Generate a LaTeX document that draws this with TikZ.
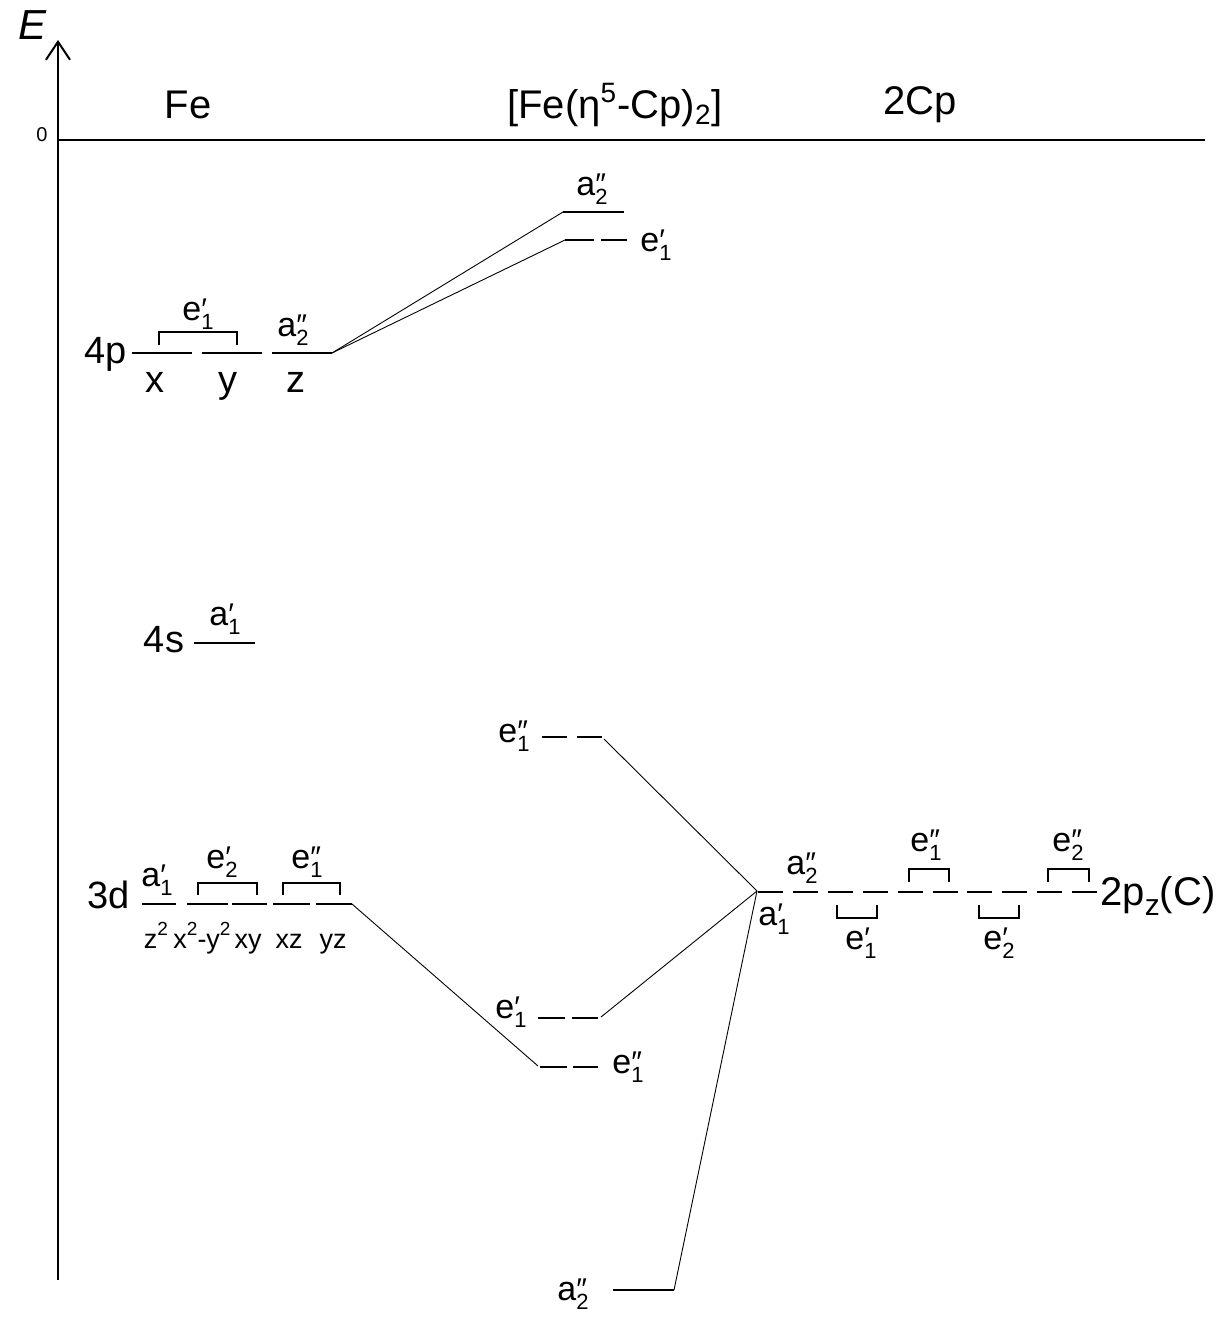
\documentclass[tikz,border=0pt]{standalone}
\usepackage{fontspec}
\setmainfont{Liberation Sans}
\usetikzlibrary{arrows.meta}
\tikzstyle{level}=[draw, line width=1pt]
\tikzstyle{link}=[draw, line width=0.45pt]
\tikzstyle{brak}=[draw, line width=0.9pt]
\tikzstyle{lab}=[inner sep=0pt, font=\fontsize{17}{17}\selectfont]
\tikzstyle{shell}=[inner sep=0pt, anchor=base, font=\fontsize{19}{19}\selectfont]
\tikzstyle{small}=[inner sep=0pt, anchor=base, font=\fontsize{13.5}{13.5}\selectfont]
% symmetry label: letter, subscript, primes
\newcommand{\orb}[3]{#1\rlap{\raisebox{0.05em}{\fontsize{15}{15}\selectfont#3}}\raisebox{-0.25em}{\fontsize{11}{11}\selectfont#2}}
\newcommand{\sq}{\raisebox{0.45em}{\fontsize{9.5}{9.5}\selectfont 2}}

\begin{document}
\begin{tikzpicture}[x=0.5pt,y=-0.5pt]
\useasboundingbox (0,0) rectangle (1230,1321);
% energy axis
\draw[line width=1pt, -{Straight Barb[length=9pt,width=12pt]}] (58,1280) -- (58,40);
\draw[line width=1pt] (58,140) -- (1205,140);
\node[inner sep=0pt, font=\fontsize{21}{21}\selectfont\itshape] (en) at (33,25) {E};
\node[inner sep=0pt, font=\fontsize{10}{10}\selectfont] (zero) at (42,135) {0};
\node[inner sep=0pt, font=\fontsize{20}{20}\selectfont] (hfe) at (188,105) {Fe};
\node[inner sep=0pt, font=\fontsize{20}{20}\selectfont] (hcx) at (615,105) {[Fe(η\textsuperscript{5}-Cp)\textsubscript{2}]};
\node[inner sep=0pt, font=\fontsize{20}{20}\selectfont] (hcp) at (920,105) {2Cp};

% Fe 4p
\node[shell] (p4) at (106,363) {4p};
\foreach \x in {132,202,272} % edit here for the p levels
\draw[level] (\x,353) -- ++(60,0);
\coordinate (p4z) at (332,353);
\draw[brak] (159,345) -- (159,332) -- (237,332) -- (237,345);
\node[lab] (p4e) at (198,314) {\orb{e}{1}{′}};
\node[lab] (p4a) at (293,330) {\orb{a}{2}{″}};
\node[shell] (p4x) at (155,392) {x};
\node[shell] (p4y) at (228,392) {y};
\node[shell] (p4zz) at (296,392) {z};

% Fe 4s
\node[shell] (s4) at (164,652) {4s};
\draw[level] (194,643) -- (255,643);
\node[lab] (s4a) at (225,619) {\orb{a}{1}{′}};

% Fe 3d
\node[shell] (d3) at (109,908) {3d};
\foreach \x/\w in {142/34,187/41,232/35,273/37,316/36} % edit here for the d levels
\draw[level] (\x,904) -- ++(\w,0);
\coordinate (d3yz) at (352,904);
\draw[brak] (198,895) -- (198,883) -- (257,883) -- (257,895);
\draw[brak] (283,895) -- (283,883) -- (340,883) -- (340,895);
\node[lab] (d3a) at (157,880) {\orb{a}{1}{′}};
\node[lab] (d3e2) at (222,862) {\orb{e}{2}{′}};
\node[lab] (d3e1) at (307,862) {\orb{e}{1}{″}};
\node[small] (dz2) at (156,948) {z\sq};
\node[small] (dx2) at (202,948) {x\sq-y\sq};
\node[small] (dxy) at (248,948) {xy};
\node[small] (dxz) at (289,948) {xz};
\node[small] (dyz) at (333,948) {yz};

% ferrocene levels
\draw[level] (563,212) -- (624,212);
\coordinate (ma2) at (563,212);
\node[lab] (ma2l) at (592,189) {\orb{a}{2}{″}};
\draw[level] (565,240) -- (594,240);
\draw[level] (601,240) -- (627,240);
\coordinate (me1) at (565,240);
\node[lab] (me1l) at (656,245) {\orb{e}{1}{′}};

\node[lab] (mu) at (514,736) {\orb{e}{1}{″}};
\draw[level] (542,737) -- (567,737);
\draw[level] (577,737) -- (602,737);
\coordinate (mue) at (604,739);

\node[lab] (mel) at (511,1012) {\orb{e}{1}{′}};
\draw[level] (538,1018) -- (565,1018);
\draw[level] (572,1018) -- (598,1018);
\coordinate (mle) at (601,1017);

\draw[level] (540,1067) -- (567,1067);
\draw[level] (573,1067) -- (598,1067);
\coordinate (mdd) at (538,1066);
\node[lab] (mddl) at (628,1067) {\orb{e}{1}{″}};

\draw[level] (613,1290) -- (674,1290);
\coordinate (mbot) at (674,1290);
\node[lab] (mbotl) at (573,1294) {\orb{a}{2}{″}};

% 2Cp levels
\foreach \i in {0,...,9} % edit here for the ring levels
\draw[level] ({758+34.9*\i},892) -- ++(25,0);
\coordinate (cp) at (757,891);
\draw[brak] (837,905) -- (837,918) -- (877,918) -- (877,905);
\draw[brak] (909,882) -- (909,869) -- (949,869) -- (949,882);
\draw[brak] (979,905) -- (979,918) -- (1019,918) -- (1019,905);
\draw[brak] (1048,882) -- (1048,869) -- (1089,869) -- (1089,882);
\node[lab] (ca2) at (802,868) {\orb{a}{2}{″}};
\node[lab] (ca1) at (774,919) {\orb{a}{1}{′}};
\node[lab] (ce1) at (861,943) {\orb{e}{1}{′}};
\node[lab] (ce1b) at (926,845) {\orb{e}{1}{″}};
\node[lab] (ce2) at (999,943) {\orb{e}{2}{′}};
\node[lab] (ce2b) at (1068,845) {\orb{e}{2}{″}};
\node[shell, anchor=base west, font=\fontsize{20}{20}\selectfont] (c2p) at (1100,905) {2p\raisebox{-0.25em}{\fontsize{15}{15}\selectfont z}(C)};

% correlation lines
\draw[link] (p4z) -- (ma2);
\draw[link] (p4z) -- (me1);
\draw[link] (d3yz) -- (mdd);
\draw[link] (mue) -- (cp);
\draw[link] (mle) -- (cp);
\draw[link] (mbot) -- (cp);
\end{tikzpicture}
\end{document}
